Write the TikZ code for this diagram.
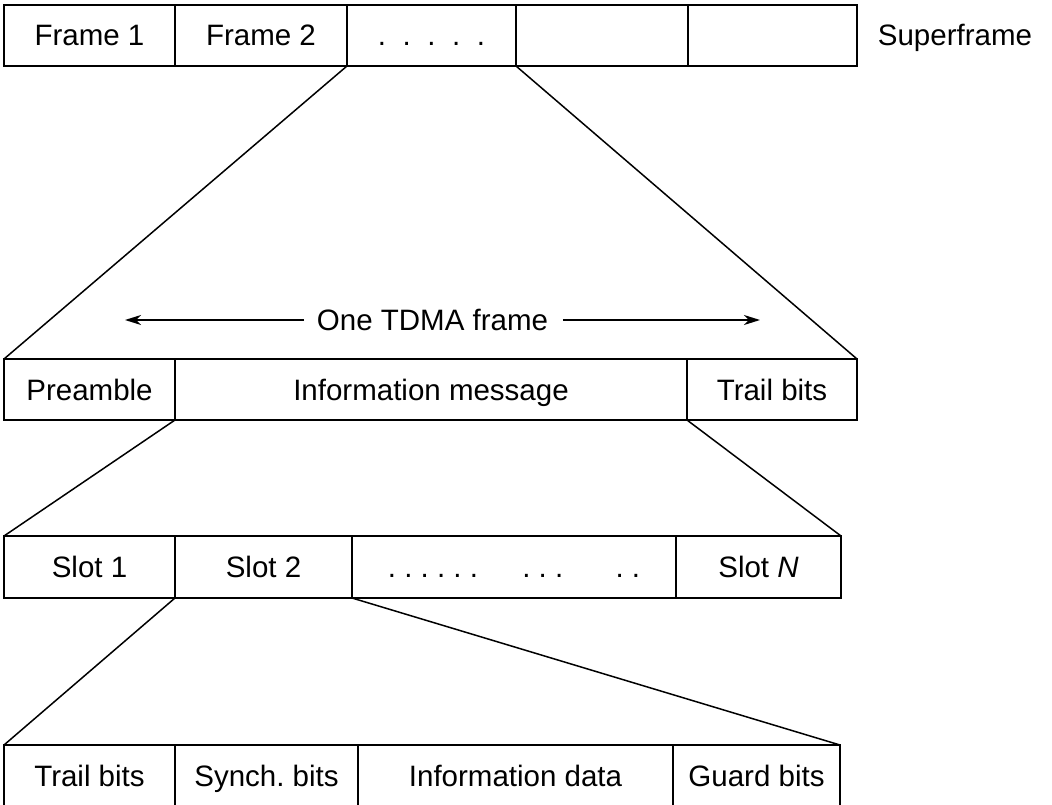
\documentclass[tikz,border=0pt]{standalone}
\usepackage{fontspec}
\setmainfont{Liberation Sans}
\usetikzlibrary{arrows.meta}

\begin{document}
\begin{tikzpicture}[x=1pt,y=-1pt,line width=1.8pt,
    font=\fontsize{29.5}{35}\selectfont,
    cell/.style={draw,rectangle,inner sep=0pt,outer sep=0pt,
      text height=21pt,text depth=0pt}]
  \useasboundingbox (0,0) rectangle (1052,805);
  % superframe
  \node[cell,minimum width=171pt,minimum height=61pt] (F1) at (89.5,35.5) {Frame 1};
  \node[cell,minimum width=172pt,minimum height=61pt] (F2) at (261,35.5) {Frame 2};
  \node[cell,minimum width=169pt,minimum height=61pt] (F3) at (431.5,35.5)
    {.\hspace{.56em}.\hspace{.56em}.\hspace{.56em}.\hspace{.56em}.};
  \node[cell,minimum width=172pt,minimum height=61pt] (F4) at (602,35.5) {};
  \node[cell,minimum width=169pt,minimum height=61pt] (F5) at (772.5,35.5) {};
  \node[text height=21pt,text depth=0pt,inner sep=0pt,anchor=west] (SF) at (877,35.5) {Superframe};
  % one TDMA frame
  \node[cell,minimum width=171pt,minimum height=61pt] (PRE) at (89.5,389.5) {Preamble};
  \node[cell,minimum width=512pt,minimum height=61pt] (MSG) at (431,389.5) {Information message};
  \node[cell,minimum width=170pt,minimum height=61pt] (TRL) at (772,389.5) {Trail bits};
  \node[inner sep=0pt,text height=21pt,text depth=0pt] (TDMA) at (432.5,320) {One TDMA frame};
  \coordinate (TL) at (125,320);
  \coordinate (TR) at (760,320);
  \draw[-{Stealth[length=16pt,width=10pt,inset=5pt]},line width=1.5pt] ([xshift=-12pt]TDMA.west) -- (TL);
  \draw[-{Stealth[length=16pt,width=10pt,inset=5pt]},line width=1.5pt] ([xshift=14pt]TDMA.east) -- (TR);
  % slots
  \node[cell,minimum width=171pt,minimum height=62pt] (S1) at (89.5,567) {Slot 1};
  \node[cell,minimum width=177pt,minimum height=62pt] (S2) at (263.5,567) {Slot 2};
  \node[cell,minimum width=324pt,minimum height=62pt] (SD) at (514,567)
    {.~.~.~.~.~.\hspace{1.5em}.~.~.\hspace{1.77em}.~.};
  \node[cell,minimum width=165pt,minimum height=62pt] (SN) at (758.5,567) {Slot \textit{N}};
  % one slot
  \node[cell,minimum width=171pt,minimum height=61.5pt] (TB) at (89.5,775.75) {Trail bits};
  \node[cell,minimum width=183pt,minimum height=61.5pt] (SY) at (266.5,775.75) {Synch.\ bits};
  \node[cell,minimum width=315pt,minimum height=61.5pt] (ID) at (515.5,775.75) {Information data};
  \node[cell,minimum width=167pt,minimum height=61.5pt] (GB) at (756.5,775.75) {Guard bits};
  % expansion lines
  \draw[line width=1.5pt] (F3.south west) -- (PRE.north west);
  \draw[line width=1.5pt] (F3.south east) -- (TRL.north east);
  \draw[line width=1.5pt] (PRE.south east) -- (S1.north west);
  \draw[line width=1.5pt] (TRL.south west) -- (SN.north east);
  \draw[line width=1.5pt] (S2.south west) -- (TB.north west);
  \draw[line width=1.5pt] (S2.south east) -- (GB.north east);
\end{tikzpicture}
\end{document}
